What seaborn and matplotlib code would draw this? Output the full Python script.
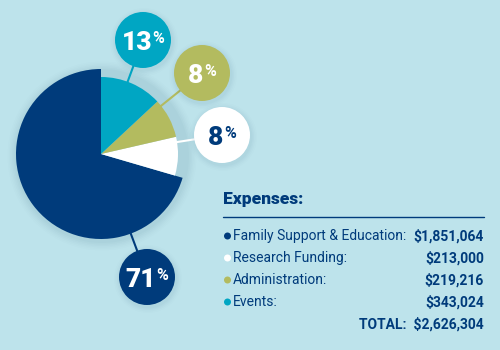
import numpy as np
import matplotlib
matplotlib.use("Agg")
import matplotlib.pyplot as plt
from matplotlib.patches import Circle
import seaborn as sns

categories = ["Family Support & Education", "Research Funding", "Administration", "Events"]
amounts = [1851064, 213000, 219216, 343024]
pct_labels = ["71", "8", "8", "13"]
amount_labels = ["$1,851,064", "$213,000", "$219,216", "$343,024"]
total_label = "$2,626,304"
colors = ["#003b7b", "#ffffff", "#b3bb5f", "#00a6c3"]

BG = "#bde3eb"
NAVY = "#003b7b"

sns.set_style("white")
plt.rcParams['font.family'] = ['Liberation Sans Narrow', 'Roboto', 'DejaVu Sans']
HEAVY = ["Roboto", "DejaVu Sans"]

fig = plt.figure(figsize=(5, 3.5), dpi=100)
fig.patch.set_facecolor(BG)
ax = fig.add_axes([0, 0, 1, 1])
ax.set_facecolor(BG)
ax.set_xlim(0, 500)
ax.set_ylim(0, 350)

def Y(p):
    return 350 - p

cx, cy = 101, Y(154)
r_small, r_big = 77, 85

# soft shadow around pie
for i, a in enumerate(np.linspace(0.025, 0.01, 6)):
    ax.add_patch(Circle((cx + 1, cy - 2), r_big + 2 + i * 1.5, color="#2a5d78", alpha=a, lw=0, zorder=1))

wedges, _ = ax.pie(amounts, colors=colors, startangle=90, counterclock=True,
                   radius=r_small, center=(cx, cy),
                   wedgeprops=dict(linewidth=0, zorder=3))
wedges[0].set_radius(r_big)
for w in wedges:
    w.set_zorder(3)
ax.set_xlim(0, 500)
ax.set_ylim(0, 350)
ax.set_aspect("equal")
ax.axis("off")

renderer = fig.canvas.get_renderer()

# bubbles: (x, y) pixel centers per category
bubble_pos = [(147, 277), (222, 135), (202, 73), (143, 40)]
bubble_r = 28
text_colors = ["white", NAVY, "white", "white"]
PX = 100 / 72
big_fs, small_fs = 19, 11.5
cap_big = 0.711 * big_fs * PX
cap_small = 0.711 * small_fs * PX
for i, (bx, by) in enumerate(bubble_pos):
    by = Y(by)
    dx, dy = bx - cx, by - cy
    d = np.hypot(dx, dy)
    rr = (r_big if i == 0 else r_small) - 2
    ax.plot([cx + dx * rr / d, bx], [cy + dy * rr / d, by], color=colors[i], lw=1.5,
            zorder=2, solid_capstyle="butt")
    for k, a in enumerate(np.linspace(0.03, 0.01, 4)):
        ax.add_patch(Circle((bx + 1, by - 2), bubble_r + 1.5 + k * 1.5, color="#2a5d78", alpha=a, lw=0, zorder=4))
    ax.add_patch(Circle((bx, by), bubble_r, color=colors[i], lw=0, zorder=5))
    base = by - cap_big / 2 - 1
    t1 = ax.text(bx, base, pct_labels[i], ha="left", va="baseline", fontsize=big_fs, fontweight=900,
                 color=text_colors[i], family=HEAVY, zorder=6)
    t2 = ax.text(bx, base + cap_big - cap_small, "%", ha="left", va="baseline", fontsize=small_fs,
                 fontweight="bold", color=text_colors[i], family=HEAVY, zorder=6)
    w1 = t1.get_window_extent(renderer).width
    w2 = t2.get_window_extent(renderer).width
    gap = 0.2
    x0 = bx - (w1 + gap + w2) / 2
    t1.set_x(x0)
    t2.set_x(x0 + w1 + gap)

# legend / table
ax.text(223, Y(199), "Expenses:", ha="left", va="center", fontsize=12.5, fontweight=900,
        color=NAVY, family=HEAVY)
ax.plot([223, 484], [Y(217), Y(217)], color=NAVY, lw=1)
row_y = [236, 258, 280, 302]
for i, (cat, amt) in enumerate(zip(categories, amount_labels)):
    yy = Y(row_y[i])
    ax.add_patch(Circle((227.5, yy), 3.5, color=colors[i], lw=0))
    ax.text(233, yy, cat + ":", ha="left", va="center", fontsize=10, color=NAVY)
    ax.text(484, yy, amt, ha="right", va="center", fontsize=10, fontweight="bold", color=NAVY)
ax.text(484, Y(324), "TOTAL:  " + total_label, ha="right", va="center", fontsize=10,
        fontweight="bold", color=NAVY)

fig.savefig("out.png", dpi=100, facecolor=BG)
